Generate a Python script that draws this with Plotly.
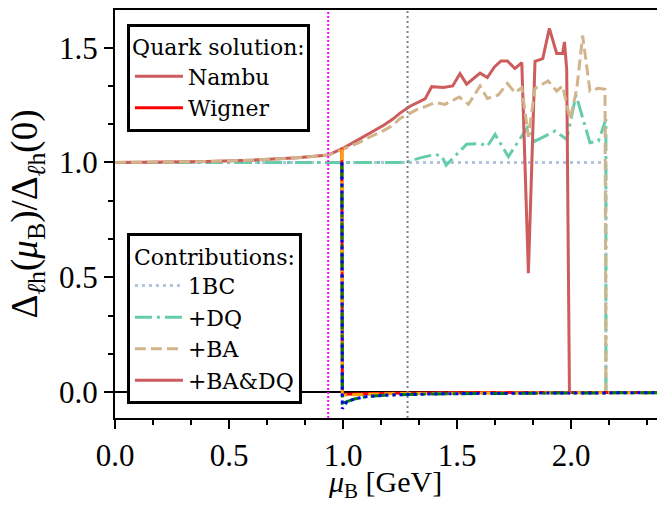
import plotly.graph_objects as go

# ---------------- data ----------------
# Nambu solution, contributions
mu_1bc = [0.0, 2.153, 2.153]
val_1bc = [1.0, 1.0, 0.0]

mu_dq = [0.0, 1.25, 1.29, 1.338, 1.404, 1.433, 1.452, 1.542, 1.601, 1.633, 1.667,
         1.725, 1.813, 1.842, 1.93, 1.981, 2.022, 2.083, 2.12, 2.153, 2.153]
val_dq = [1.0, 1.0, 1.005, 1.02, 1.035, 1.028, 0.988, 1.079, 1.083, 1.071, 1.122,
          1.025, 1.159, 1.093, 1.137, 1.10, 1.293, 1.086, 1.093, 1.188, 0.0]

mu_ba = [0.0, 0.2, 0.4, 0.6, 0.8, 0.935, 1.0, 1.06, 1.12, 1.18, 1.22, 1.25, 1.286,
         1.323, 1.36, 1.404, 1.447, 1.51, 1.55, 1.601, 1.633, 1.681, 1.721, 1.754,
         1.784, 1.813, 1.842, 1.90, 1.937, 1.963, 1.996, 2.025, 2.051, 2.083, 2.12,
         2.149, 2.153]
val_ba = [1.0, 1.001, 1.004, 1.01, 1.02, 1.032, 1.058, 1.082, 1.112, 1.14, 1.163,
          1.192, 1.21, 1.23, 1.243, 1.261, 1.253, 1.285, 1.253, 1.333, 1.279, 1.294,
          1.344, 1.304, 1.326, 1.112, 1.322, 1.355, 1.311, 1.333, 1.188, 1.319,
          1.552, 1.311, 1.323, 1.319, 0.0]

mu_badq = [0.0, 0.2, 0.4, 0.6, 0.8, 0.935, 1.0, 1.06, 1.12, 1.18, 1.22, 1.25, 1.294,
           1.323, 1.36, 1.389, 1.44, 1.481, 1.513, 1.542, 1.572, 1.601, 1.633, 1.664,
           1.693, 1.721, 1.754, 1.784, 1.813, 1.842, 1.876, 1.905, 1.937, 1.963,
           1.971, 1.981, 1.993]
val_badq = [1.0, 1.001, 1.004, 1.01, 1.02, 1.032, 1.062, 1.095, 1.128, 1.163, 1.19,
            1.215, 1.245, 1.258, 1.277, 1.33, 1.326, 1.333, 1.387, 1.341, 1.367,
            1.389, 1.37, 1.416, 1.442, 1.442, 1.409, 1.435, 0.518, 1.44, 1.452,
            1.584, 1.475, 1.475, 1.525, 1.406, 0.0]

# Wigner solution, contributions
mu_w = [0.995, 0.997, 1.005, 1.015, 1.05, 1.1, 1.2, 1.4, 1.7, 2.0, 2.377]
w_1bc = [1.0, -0.073, -0.060, -0.045, -0.030, -0.020, -0.013, -0.008, -0.005, -0.004, -0.003]
w_dq = [1.0, -0.048, -0.046, -0.042, -0.030, -0.020, -0.013, -0.008, -0.005, -0.004, -0.003]
w_ba = [1.058, -0.014, -0.013, -0.013, -0.012, -0.010, -0.007, -0.005, -0.004, -0.003, -0.003]
w_badq = [1.062, -0.010, -0.010, -0.010, -0.009, -0.007, -0.005, -0.003, -0.002, -0.002, -0.002]

mu_nucleon = 0.935
mu_grey = 1.283

contrib_names = ["1BC", "+DQ", "+BA", "+BA&amp;DQ"]
solution_names = ["Nambu", "Wigner"]
x_title = "<i>μ</i><sub>B</sub> [GeV]"
y_title = "Δ<sub><i>ℓ</i>h</sub>(<i>μ</i><sub>B</sub>)/Δ<sub><i>ℓ</i>h</sub>(0)"

# ---------------- styles ----------------
c_1bc, c_dq, c_ba, c_badq = "#b0c4de", "#66cdaa", "#d2b48c", "#cd5c5c"
w_colors = {"1bc": "#0000ff", "dq": "#008000", "ba": "#ffa500", "badq": "#ff0000"}
d_dot = "3px,4px"
d_dashdot = "17px,5px,3px,5px"
d_dash = "11px,5px"
LW = 3

fig = go.Figure()

# Nambu curves
fig.add_trace(go.Scatter(x=mu_1bc, y=val_1bc, mode="lines", name=contrib_names[0],
                         line=dict(color=c_1bc, width=LW, dash=d_dot),
                         legend="legend2", legendrank=1))
fig.add_trace(go.Scatter(x=mu_dq, y=val_dq, mode="lines", name=contrib_names[1],
                         line=dict(color=c_dq, width=LW, dash=d_dashdot),
                         legend="legend2", legendrank=2))
fig.add_trace(go.Scatter(x=mu_badq, y=val_badq, mode="lines", name=contrib_names[3],
                         line=dict(color=c_badq, width=LW),
                         legend="legend2", legendrank=4))
fig.add_trace(go.Scatter(x=mu_ba, y=val_ba, mode="lines", name=contrib_names[2],
                         line=dict(color=c_ba, width=LW, dash=d_dash),
                         legend="legend2", legendrank=3))

# Wigner curves
fig.add_trace(go.Scatter(x=mu_w, y=w_badq, mode="lines", showlegend=False,
                         line=dict(color=w_colors["badq"], width=LW)))
fig.add_trace(go.Scatter(x=mu_w, y=w_ba, mode="lines", showlegend=False,
                         line=dict(color=w_colors["ba"], width=LW, dash=d_dash)))
fig.add_trace(go.Scatter(x=mu_w, y=w_dq, mode="lines", showlegend=False,
                         line=dict(color=w_colors["dq"], width=LW, dash=d_dashdot)))
fig.add_trace(go.Scatter(x=mu_w, y=w_1bc, mode="lines", showlegend=False,
                         line=dict(color=w_colors["1bc"], width=LW, dash=d_dot)))

# legend-only entries for the quark solution
fig.add_trace(go.Scatter(x=[None], y=[None], mode="lines", name=solution_names[0],
                         line=dict(color=c_badq, width=LW), legend="legend"))
fig.add_trace(go.Scatter(x=[None], y=[None], mode="lines", name=solution_names[1],
                         line=dict(color="#ff0000", width=LW), legend="legend"))

# vertical reference lines
fig.add_shape(type="line", xref="x", yref="paper", x0=mu_nucleon, x1=mu_nucleon,
              y0=0, y1=1, line=dict(color="#ff00ff", width=2, dash="2px,2px"))
fig.add_shape(type="line", xref="x", yref="paper", x0=mu_grey, x1=mu_grey,
              y0=0, y1=1, line=dict(color="#808080", width=2, dash="2px,3px"))

TF = "Liberation Serif"
LGF = "DejaVu Serif"
LF = 22

# x-axis title as a paper annotation (keeps the plot area fixed)
fig.add_annotation(text=x_title, xref="paper", yref="paper", x=0.498, y=-0.214,
                   xanchor="center", yanchor="bottom", showarrow=False,
                   font=dict(family=TF, size=30, color="black"))

fig.update_layout(
    width=657, height=505,
    margin=dict(l=115, r=0, t=10, b=87),
    plot_bgcolor="white", paper_bgcolor="white",
    font=dict(family=TF, size=31, color="black"),
    xaxis=dict(range=[0, 2.377], showline=True, linewidth=2, linecolor="black",
               mirror=True, ticks="outside", ticklen=9, tickwidth=2,
               tickcolor="black", tick0=0, dtick=0.5, tickformat=".1f",
               showgrid=False, zeroline=False, automargin=False,
               minor=dict(ticks="outside", tick0=0, dtick=0.5 / 3, ticklen=5,
                          tickwidth=1.5, tickcolor="black", showgrid=False)),
    yaxis=dict(range=[-0.113, 1.664], showline=True, linewidth=2, linecolor="black",
               mirror=False, ticks="outside", ticklen=9, tickwidth=2,
               tickcolor="black", tick0=0, dtick=0.5, tickformat=".1f",
               showgrid=False, zeroline=True, zerolinecolor="black",
               zerolinewidth=1.5, automargin=False,
               minor=dict(ticks="outside", tick0=0, dtick=0.5 / 3, ticklen=5,
                          tickwidth=1.5, tickcolor="black", showgrid=False),
               title=dict(text=y_title, standoff=10)),
    legend=dict(x=0.022, y=0.966, xanchor="left", yanchor="top",
                bordercolor="black", borderwidth=3, bgcolor="white",
                font=dict(family=LGF, size=LF), itemwidth=48,
                title=dict(text="Quark solution:", side="top center",
                           font=dict(family=LGF, size=LF))),
    legend2=dict(x=0.022, y=0.034, xanchor="left", yanchor="bottom",
                 bordercolor="black", borderwidth=3, bgcolor="white",
                 font=dict(family=LGF, size=LF), itemwidth=48,
                 title=dict(text="Contributions:", side="top center",
                            font=dict(family=LGF, size=LF))),
)

fig.write_html("out.html")
